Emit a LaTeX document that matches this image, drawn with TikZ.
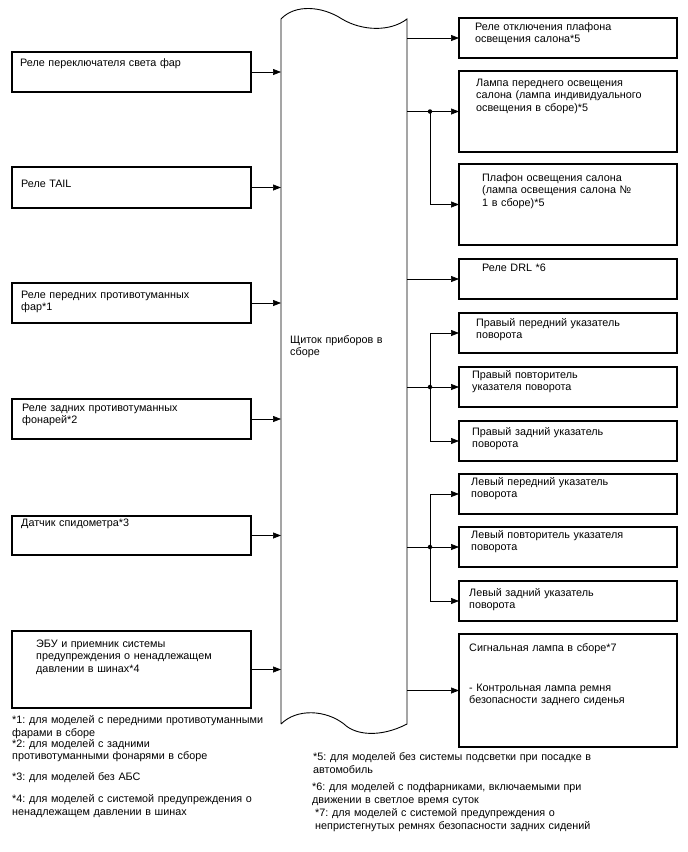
\documentclass[tikz,border=0pt]{standalone}
\usepackage{fontspec}
\setmainfont{Liberation Sans}
\frenchspacing
\usetikzlibrary{positioning,arrows.meta}

\begin{document}
\begin{tikzpicture}[x=1pt, y=-1pt,
    inBox/.style={rectangle, draw=black, line width=1.2pt, anchor=north west, minimum width=239pt, inner sep=0pt, outer sep=0pt},
    outBox/.style={rectangle, draw=black, line width=1.2pt, anchor=north west, minimum width=218pt, inner sep=0pt, outer sep=0pt},
    boxText/.style={anchor=base west, inner sep=0pt, text width=230pt, align=left, font=\fontsize{10.8}{12.5}\selectfont},
    noteText/.style={boxText, text width=300pt},
    sigLine/.style={-{Triangle[length=8pt,width=6pt]}, line width=0.7pt},
    junct/.style={circle, fill=black, inner sep=0pt, minimum size=4.5pt}
]
    \useasboundingbox (0,0) rectangle (688,852);

    % instrument cluster
    \node[rectangle, anchor=north west, minimum width=126pt, minimum height=705pt, inner sep=0pt, outer sep=0pt] (cluster) at (281,19) {};
    \draw[line width=0.9pt] (281,724) -- (281,19)
        .. controls (295,4) and (322,6) .. (342,19)
        .. controls (362,31) and (390,32) .. (407,19) -- (407,724)
        .. controls (380,738) and (355,735) .. (344,724)
        .. controls (326,710) and (297,708) .. (281,724);
    \node[boxText] (clusterTxt) at (290,343) {Щиток приборов в\\сборе};

    % inputs
    \node[inBox, minimum height=40pt] (headRel) at (12,52) {};
    \node[inBox, minimum height=41pt] (tailRel) at (12,167) {};
    \node[inBox, minimum height=40pt] (ffogRel) at (12,283) {};
    \node[inBox, minimum height=40pt] (rfogRel) at (12,399) {};
    \node[inBox, minimum height=39pt] (speedSens) at (12,516) {};
    \node[inBox, minimum height=77pt] (tpmsEcu) at (12,631) {};

    \node[boxText] (headTxt) at (20,66) {Реле переключателя света фар};
    \node[boxText] (tailTxt) at (21,187) {Реле TAIL};
    \node[boxText] (ffogTxt) at (21,298) {Реле передних противотуманных\\фар*1};
    \node[boxText] (rfogTxt) at (22,411) {Реле задних противотуманных\\фонарей*2};
    \node[boxText] (speedTxt) at (21,526) {Датчик спидометра*3};
    \node[boxText] (tpmsTxt) at (36,647) {ЭБУ и приемник системы\\предупреждения о ненадлежащем\\давлении в шинах*4};

    \foreach \src in {headRel,tailRel,ffogRel,rfogRel,speedSens,tpmsEcu}
        \draw[sigLine] (\src.east) -- (\src.east -| cluster.west);

    % outputs
    \node[outBox, minimum height=40pt] (domeCut) at (459,18) {};
    \node[outBox, minimum height=81pt] (frontLamp) at (459,71) {};
    \node[outBox, minimum height=81pt] (roomLamp) at (459,164) {};
    \node[outBox, minimum height=40pt] (drlRel) at (459,259) {};
    \node[outBox, minimum height=40pt] (rfTurn) at (459,313) {};
    \node[outBox, minimum height=40pt] (rRep) at (459,367) {};
    \node[outBox, minimum height=40pt] (rrTurn) at (459,421) {};
    \node[outBox, minimum height=40pt] (lfTurn) at (459,474) {};
    \node[outBox, minimum height=40pt] (lRep) at (459,527) {};
    \node[outBox, minimum height=40pt] (lrTurn) at (459,581) {};
    \node[outBox, minimum height=113pt] (warnLamp) at (459,634) {};

    \node[boxText] (domeTxt) at (475,30) {Реле отключения плафона\\освещения салона*5};
    \node[boxText] (frontTxt) at (476,86) {Лампа переднего освещения\\салона (лампа индивидуального\\освещения в сборе)*5};
    \node[boxText] (roomTxt) at (482,181) {Плафон освещения салона\\(лампа освещения салона №\\1 в сборе)*5};
    \node[boxText] (drlTxt) at (482,271) {Реле DRL *6};
    \node[boxText] (rfTxt) at (476,326) {Правый передний указатель\\поворота};
    \node[boxText] (rRepTxt) at (472,378) {Правый повторитель\\указателя поворота};
    \node[boxText] (rrTxt) at (472,435) {Правый задний указатель\\поворота};
    \node[boxText] (lfTxt) at (471,485) {Левый передний указатель\\поворота};
    \node[boxText] (lRepTxt) at (471,538) {Левый повторитель указателя\\поворота};
    \node[boxText] (lrTxt) at (469,596) {Левый задний указатель\\поворота};
    \node[boxText] (warnTxt) at (469,651) {Сигнальная лампа в сборе*7\\[27.5pt]- Контрольная лампа ремня\\безопасности заднего сиденья};

    \foreach \dst in {domeCut,frontLamp,drlRel,rRep,lRep,warnLamp}
        \draw[sigLine] (\dst.west -| cluster.east) -- (\dst.west);

    % branches
    \coordinate (jFront) at ([xshift=-29pt]frontLamp.west);
    \coordinate (jRight) at ([xshift=-29pt]rRep.west);
    \coordinate (jLeft) at ([xshift=-29pt]lRep.west);
    \draw[sigLine] (jFront) |- (roomLamp.west);
    \draw[sigLine] (jRight) |- (rfTurn.west);
    \draw[sigLine] (jRight) |- (rrTurn.west);
    \draw[sigLine] (jLeft) |- (lfTurn.west);
    \draw[sigLine] (jLeft) |- (lrTurn.west);
    \node[junct] (dotFront) at (jFront) {};
    \node[junct] (dotRight) at (jRight) {};
    \node[junct] (dotLeft) at (jLeft) {};

    % notes
    \node[noteText] (note1) at (12,723.5) {*1: для моделей с передними противотуманными\\фарами в сборе};
    \node[noteText] (note2) at (12,747) {*2: для моделей с задними\\противотуманными фонарями в сборе};
    \node[noteText] (note3) at (12,780.5) {*3: для моделей без АБС};
    \node[noteText] (note4) at (12,802.5) {*4: для моделей с системой предупреждения о\\ненадлежащем давлении в шинах};
    \node[noteText] (note5) at (313,760.5) {*5: для моделей без системы подсветки при посадке в\\автомобиль};
    \node[noteText] (note6) at (312,790.5) {*6: для моделей с подфарниками, включаемыми при\\движении в светлое время суток};
    \node[noteText] (note7) at (315,816.5) {*7: для моделей с системой предупреждения о\\непристегнутых ремнях безопасности задних сидений};
\end{tikzpicture}
\end{document}
